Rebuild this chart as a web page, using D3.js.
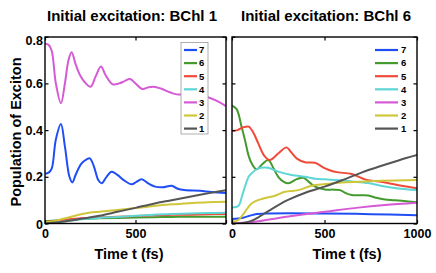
<!DOCTYPE html>
<html><head><meta charset="utf-8">
<script src="https://cdn.jsdelivr.net/npm/d3@7"></script>
<style>
html,body{margin:0;padding:0;background:#fff;}
text{font-family:"Liberation Sans",Arial,sans-serif;font-weight:bold;fill:#000;}
</style></head>
<body>
<svg id="c" width="436" height="273"></svg>
<script>
// ---------- data ----------
const seriesNames = ["7","6","5","4","3","2","1"];
const seriesColors = ["#1f4ef5","#449a2e","#f04a3a","#5fd6d6","#d55ad5","#cfc63a","#555555"];
const titles = ["Initial excitation: BChl 1","Initial excitation: BChl 6"];
const yTicks = [0,0.2,0.4,0.6,0.8];
const yTickLabels = ["0","0.2","0.4","0.6","0.8"];
const xTicks = [0,500,1000];
const xTickLabelsLeft = ["0","500",""];
const xTickLabelsRight = ["0","500","1000"];

// Initial excitation BChl 1  ([time fs, population])
const b1_s7 = [[0,0.213],[20,0.218],[37,0.235],[60,0.36],[88,0.426],[110,0.33],[135,0.2],[151,0.176],[170,0.21],[200,0.255],[230,0.275],[248,0.279],[270,0.245],[295,0.185],[313,0.172],[340,0.2],[368,0.222],[400,0.208],[440,0.183],[479,0.168],[505,0.178],[534,0.189],[570,0.172],[608,0.158],[650,0.155],[700,0.162],[730,0.15],[770,0.143],[856,0.14],[920,0.135],[1000,0.131]];
const b1_s6 = [[0,0.01],[100,0.015],[200,0.019],[300,0.022],[400,0.024],[500,0.026],[600,0.027],[700,0.028],[800,0.029],[900,0.029],[1000,0.029]];
const b1_s5 = [[0,0.005],[100,0.015],[200,0.022],[300,0.026],[400,0.029],[500,0.032],[600,0.035],[700,0.037],[800,0.038],[900,0.04],[1000,0.041]];
const b1_s4 = [[0,0],[100,0.008],[200,0.018],[300,0.024],[400,0.028],[500,0.033],[600,0.038],[700,0.041],[800,0.043],[900,0.045],[1000,0.046]];
const b1_s3 = [[0,0.77],[20,0.765],[37,0.74],[60,0.6],[88,0.515],[110,0.6],[130,0.7],[147,0.733],[170,0.68],[193,0.636],[220,0.605],[252,0.586],[280,0.63],[309,0.672],[335,0.635],[374,0.596],[410,0.6],[440,0.61],[470,0.619],[500,0.6],[538,0.576],[570,0.583],[599,0.586],[640,0.578],[690,0.562],[728,0.553],[780,0.555],[820,0.555],[860,0.55],[893,0.543],[950,0.525],[1000,0.503]];
const b1_s2 = [[0,0.005],[50,0.01],[100,0.02],[150,0.03],[200,0.04],[250,0.047],[300,0.05],[400,0.058],[500,0.066],[600,0.075],[700,0.082],[800,0.087],[900,0.091],[1000,0.093]];
const b1_s1 = [[0,0],[100,0.008],[200,0.02],[300,0.033],[400,0.05],[500,0.067],[600,0.085],[700,0.1],[800,0.115],[900,0.129],[1000,0.143]];

// Initial excitation BChl 6
const b6_s7 = [[0,0.019],[60,0.025],[122,0.039],[200,0.043],[500,0.043],[750,0.04],[1000,0.035]];
const b6_s6 = [[0,0.505],[25,0.49],[50,0.42],[70,0.358],[90,0.29],[106,0.258],[133,0.232],[165,0.255],[196,0.272],[225,0.235],[250,0.2],[280,0.178],[305,0.172],[350,0.19],[386,0.196],[420,0.175],[449,0.158],[503,0.146],[550,0.145],[584,0.143],[615,0.13],[647,0.122],[700,0.121],[737,0.12],[780,0.11],[827,0.103],[870,0.1],[917,0.097],[1000,0.091]];
const b6_s5 = [[0,0.396],[30,0.4],[61,0.412],[90,0.415],[115,0.39],[142,0.343],[175,0.29],[205,0.272],[250,0.3],[295,0.326],[320,0.305],[349,0.279],[395,0.262],[449,0.26],[503,0.236],[540,0.225],[575,0.219],[647,0.212],[719,0.189],[770,0.182],[827,0.176],[917,0.162],[1000,0.151]];
const b6_s4 = [[0,0.069],[34,0.075],[55,0.12],[70,0.158],[90,0.2],[106,0.215],[142,0.236],[196,0.239],[250,0.222],[322,0.208],[395,0.2],[450,0.192],[503,0.189],[580,0.185],[647,0.18],[737,0.173],[827,0.158],[900,0.15],[1000,0.143]];
const b6_s3 = [[0,0],[60,0.003],[142,0.01],[322,0.032],[503,0.05],[683,0.068],[827,0.079],[1000,0.089]];
const b6_s2 = [[0,0.008],[34,0.015],[70,0.05],[106,0.086],[160,0.105],[232,0.119],[286,0.136],[358,0.143],[431,0.162],[503,0.169],[593,0.176],[683,0.179],[809,0.183],[1000,0.186]];
const b6_s1 = [[0,0],[50,0.001],[100,0.01],[150,0.03],[200,0.055],[300,0.1],[400,0.133],[500,0.158],[600,0.187],[700,0.218],[800,0.245],[900,0.27],[1000,0.293]];

// ---------- layout ----------
const svg = d3.select("#c");
const panels = [
  {x0:45, x1:226, series:[b1_s7,b1_s6,b1_s5,b1_s4,b1_s3,b1_s2,b1_s1], title:titles[0], tcx:132, xlx:129,
   xlabels:xTickLabelsLeft, ylabels:true, legend:{x:181,y:42.5,w:27,h:91.5,box:true,l0:184,l1:197,tx:199}},
  {x0:232, x1:417, series:[b6_s7,b6_s6,b6_s5,b6_s4,b6_s3,b6_s2,b6_s1], title:titles[1], tcx:326, xlx:347,
   xlabels:xTickLabelsRight, ylabels:false, legend:{x:372,y:42.5,w:40,h:91.5,box:false,l0:375,l1:398,tx:401}}
];
const yTop = 37, yBot = 223.5;

panels.forEach((p,pi)=>{
  const x = d3.scaleLinear().domain([0,1000]).range([p.x0,p.x1]);
  const y = d3.scaleLinear().domain([0,0.8]).range([yBot,36.7]);
  const g = svg.append("g");
  const cid = "clip"+pi;
  svg.append("clipPath").attr("id",cid).append("rect")
    .attr("x",p.x0).attr("y",yTop).attr("width",p.x1-p.x0).attr("height",yBot-yTop);

  const line = d3.line().x(d=>x(d[0])).y(d=>y(d[1])).curve(d3.curveCatmullRom.alpha(0.5));
  const lg = g.append("g").attr("clip-path","url(#"+cid+")");
  p.series.forEach((s,i)=>{
    lg.append("path").attr("d",line(s)).attr("fill","none")
      .attr("stroke",seriesColors[i]).attr("stroke-width",2);
  });

  // axes with inward ticks
  const ax = g.append("g").attr("transform",`translate(0,${yBot})`)
    .call(d3.axisBottom(x).tickValues(xTicks).tickSizeInner(-3.5).tickSizeOuter(0).tickPadding(5.5)
      .tickFormat((d,i)=>p.xlabels[i]));
  const at = g.append("g").attr("transform",`translate(0,${yTop})`)
    .call(d3.axisTop(x).tickValues(xTicks).tickSizeInner(-3.5).tickSizeOuter(0).tickFormat(""));
  const al = g.append("g").attr("transform",`translate(${p.x0},0)`)
    .call(d3.axisLeft(y).tickValues(yTicks).tickSizeInner(-3.5).tickSizeOuter(0).tickPadding(2)
      .tickFormat((d,i)=>p.ylabels?yTickLabels[i]:""));
  const ar = g.append("g").attr("transform",`translate(${p.x1},0)`)
    .call(d3.axisRight(y).tickValues(yTicks).tickSizeInner(-3.5).tickSizeOuter(0).tickFormat(""));
  [ax,at,al,ar].forEach(a=>{
    a.select(".domain").remove();
    a.selectAll("line").attr("stroke","#000").attr("stroke-width",1.2);
    a.selectAll("text").style("font-size","12.5px").style("font-weight","bold")
      .style("font-family","'Liberation Sans',Arial,sans-serif");
  });
  al.selectAll(".tick text").filter(d=>d===0.8).attr("dy","0.62em");
  al.selectAll(".tick text").filter(d=>d===0).attr("dy","0.4em");

  // frame
  g.append("rect").attr("x",p.x0).attr("y",yTop).attr("width",p.x1-p.x0).attr("height",yBot-yTop)
    .attr("fill","none").attr("stroke","#000").attr("stroke-width",1.4);

  // legend
  const L = p.legend;
  const leg = g.append("g");
  leg.append("rect").attr("x",L.x).attr("y",L.y).attr("width",L.w).attr("height",L.h)
    .attr("fill","#fff").attr("stroke",L.box?"#999":"none").attr("stroke-width",0.8);
  seriesNames.forEach((n,i)=>{
    const yy = 50 + i*13.1;
    leg.append("line").attr("x1",L.l0).attr("x2",L.l1).attr("y1",yy).attr("y2",yy)
      .attr("stroke",seriesColors[i]).attr("stroke-width",2.2);
    leg.append("text").attr("x",L.tx).attr("y",yy+3.3).text(n).style("font-size","9.5px");
  });

  // title & x label
  svg.append("text").attr("x",p.tcx).attr("y",20.5).attr("text-anchor","middle")
    .style("font-size","15px").text(p.title);
  svg.append("text").attr("x",p.xlx).attr("y",258.5).attr("text-anchor","middle")
    .style("font-size","14.5px").text("Time t (fs)");
});

svg.append("text").attr("transform","translate(20.5,132) rotate(-90)").attr("text-anchor","middle")
  .style("font-size","14.5px").text("Population of Exciton");
</script>
</body></html>
